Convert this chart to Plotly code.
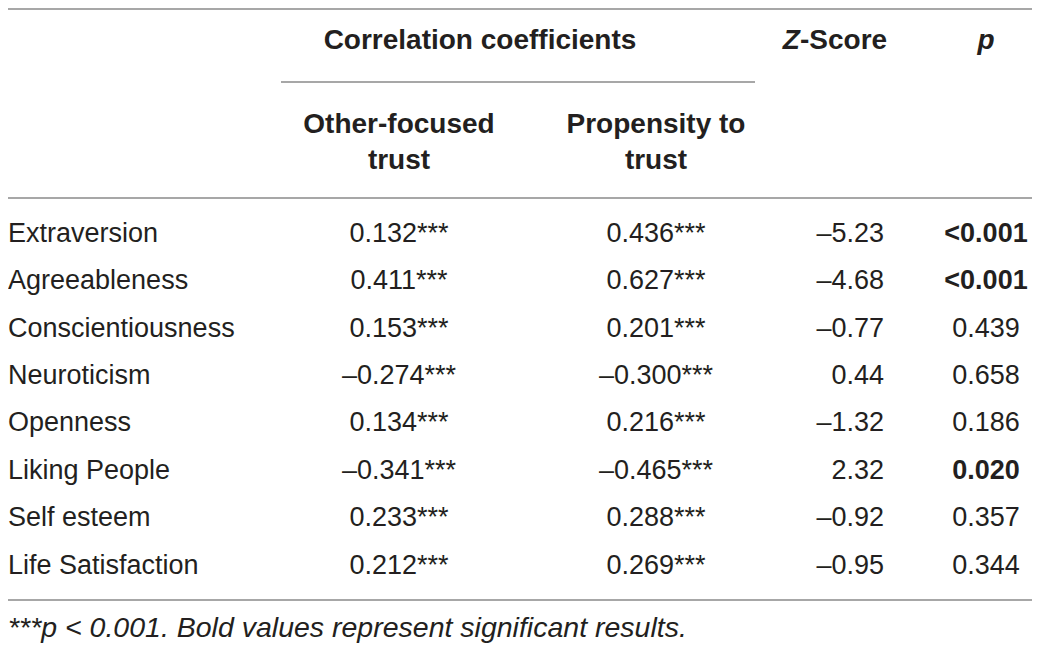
import plotly.graph_objects as go

# Table values
traits = ['Extraversion', 'Agreeableness', 'Conscientiousness', 'Neuroticism',
          'Openness', 'Liking People', 'Self esteem', 'Life Satisfaction']
other_focused = ['0.132', '0.411', '0.153', '–0.274', '0.134', '–0.341', '0.233', '0.212']
propensity = ['0.436', '0.627', '0.201', '–0.300', '0.216', '–0.465', '0.288', '0.269']
z_scores = ['–5.23', '–4.68', '–0.77', '0.44', '–1.32', '2.32', '–0.92', '–0.95']
p_values = ['<0.001', '<0.001', '0.439', '0.658', '0.186', '0.020', '0.357', '0.344']
significant = [True, True, False, False, False, True, False, False]
stars = '***'

footnote = '***p &lt; 0.001. Bold values represent significant results.'

# layout constants (page px); the page body has an 8px margin,
# so the axes start at 8 to keep page coordinates
OFF = 8
W, H = 1040 - OFF, 649 - OFF
ROW_TOP, ROW_STEP = 235, 47.4
LABEL_X, COL1_X, COL2_X, Z_X, P_X = 8, 399, 656, 884, 986
FONT = 'Liberation Sans, Arial, sans-serif'
TXT = '#231f20'
RULE = '#8a8a8a'
SIZE = 27
HEAD_SIZE = 28

rows_y = [ROW_TOP + i * ROW_STEP for i in range(len(traits))]

fig = go.Figure()


def add_col(x, texts, pos):
    fig.add_trace(go.Scatter(
        x=[x] * len(texts), y=rows_y, mode='text', text=texts,
        textposition=pos, textfont=dict(family=FONT, size=SIZE, color=TXT),
        cliponaxis=False, hoverinfo='skip', showlegend=False))


add_col(LABEL_X, traits, 'middle right')
add_col(COL1_X, [v + stars for v in other_focused], 'middle center')
add_col(COL2_X, [v + stars for v in propensity], 'middle center')
add_col(Z_X, z_scores, 'middle left')
add_col(P_X, ['<b>' + p.replace('<', '&lt;') + '</b>' if s else p.replace('<', '&lt;')
              for p, s in zip(p_values, significant)], 'middle center')

# header
headers = [
    (480, 42, '<b>Correlation coefficients</b>'),
    (835, 42, '<b><i>Z</i>-Score</b>'),
    (986, 42, '<b><i>p</i></b>'),
    (COL1_X, 144, '<b>Other-focused<br>trust</b>'),
    (COL2_X, 144, '<b>Propensity to<br>trust</b>'),
]
fig.add_trace(go.Scatter(
    x=[h[0] for h in headers], y=[h[1] for h in headers], mode='text',
    text=[h[2] for h in headers], textposition='middle center',
    textfont=dict(family=FONT, size=HEAD_SIZE, color=TXT),
    cliponaxis=False, hoverinfo='skip', showlegend=False))

fig.add_trace(go.Scatter(
    x=[LABEL_X], y=[630], mode='text', text=['<i>' + footnote + '</i>'],
    textposition='middle right', textfont=dict(family=FONT, size=28.5, color=TXT),
    cliponaxis=False, hoverinfo='skip', showlegend=False))

# horizontal rules
for x0, x1, y in [(0, 1035, 9), (281, 755, 82), (0, 1035, 198), (0, 1035, 600)]:
    fig.add_shape(type='line', x0=x0, x1=x1, y0=y, y1=y,
                  line=dict(color=RULE, width=1.5))

fig.update_layout(
    width=W, height=H, margin=dict(l=0, r=0, t=0, b=0),
    paper_bgcolor='white', plot_bgcolor='white',
    xaxis=dict(range=[OFF, OFF + W], visible=False, fixedrange=True),
    yaxis=dict(range=[OFF + H, OFF], visible=False, fixedrange=True),
)

fig.write_html("out.html")
